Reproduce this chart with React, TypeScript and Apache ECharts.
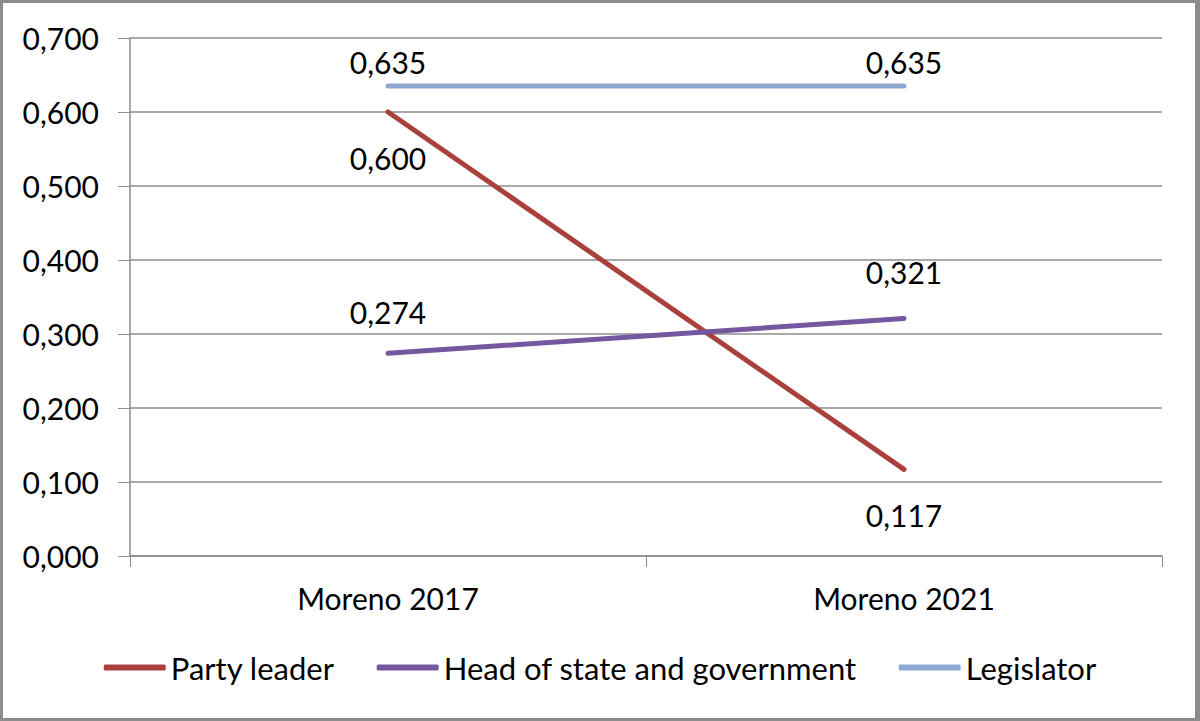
import React, { useEffect, useRef } from "react";
import * as echarts from "echarts";

const categories = ["Moreno 2017", "Moreno 2021"];
const partyLeader = [0.6, 0.117];
const headOfState = [0.274, 0.321];
const legislator = [0.635, 0.635];
const seriesNames = ["Party leader", "Head of state and government", "Legislator"];
const colors = ["#A9403C", "#7557A0", "#8DA8D2"];
const labelPositions = [
  ["bottom", "bottom"],
  ["top", "top"],
  ["top", "top"],
];
const labelDistances = [
  [31, 31],
  [26, 31],
  [9, 9],
];

const FONT = "Lato, 'Noto Sans', sans-serif";
const fmt = (v: number) => v.toFixed(3).replace(".", ",");

export default function App() {
  const ref = useRef<HTMLDivElement>(null);
  useEffect(() => {
    const chart = echarts.init(ref.current!, null, { renderer: "svg" });
    const datasets = [partyLeader, headOfState, legislator];
    chart.setOption({
      animation: false,
      textStyle: { fontFamily: FONT },
      grid: { left: 130, right: 38, top: 38, bottom: 165 },
      legend: {
        top: 647,
        left: "center",
        itemWidth: 62,
        itemHeight: 6,
        itemGap: 42,
        icon: "roundRect",
        textStyle: { fontSize: 31, color: "#000", fontFamily: FONT },
        data: seriesNames,
      },
      xAxis: {
        type: "category",
        data: categories,
        boundaryGap: true,
        axisLine: { lineStyle: { color: "#8c8c8c", width: 1.5 } },
        axisTick: { show: true, length: 11, lineStyle: { color: "#8c8c8c" } },
        axisLabel: { fontSize: 30, color: "#000", margin: 27, fontFamily: FONT },
      },
      yAxis: {
        type: "value",
        min: 0,
        max: 0.7,
        interval: 0.1,
        axisLine: { show: true, lineStyle: { color: "#8c8c8c", width: 1.5 } },
        axisTick: { show: true, length: 12, lineStyle: { color: "#8c8c8c" } },
        splitLine: { lineStyle: { color: "#8c8c8c", width: 1.5 } },
        axisLabel: {
          fontSize: 30,
          color: "#000",
          margin: 31,
          fontFamily: FONT,
          formatter: (v: number) => fmt(v),
        },
      },
      series: datasets.map((d, i) => ({
        name: seriesNames[i],
        type: "line",
        data: d.map((v, j) => ({
          value: v,
          label: {
            show: true,
            position: labelPositions[i][j],
            distance: labelDistances[i][j],
          },
        })),
        color: colors[i],
        showSymbol: true,
        symbol: "circle",
        symbolSize: 0,
        lineStyle: { width: 5, color: colors[i], cap: "round" },
        label: {
          show: true,
          fontSize: 30,
          color: "#000",
          fontFamily: FONT,
          formatter: (p: any) => fmt(p.value),
        },
      })),
    });
    return () => chart.dispose();
  }, []);
  return (
    <div
      style={{
        position: "absolute",
        left: 0,
        top: 0,
        width: 1200,
        height: 721,
        boxSizing: "border-box",
        border: "3px solid #8c8c8c",
        borderRightWidth: 5,
        background: "#fff",
      }}
    >
      <div ref={ref} style={{ position: "absolute", left: -3, top: -3, width: 1200, height: 721 }} />
    </div>
  );
}
